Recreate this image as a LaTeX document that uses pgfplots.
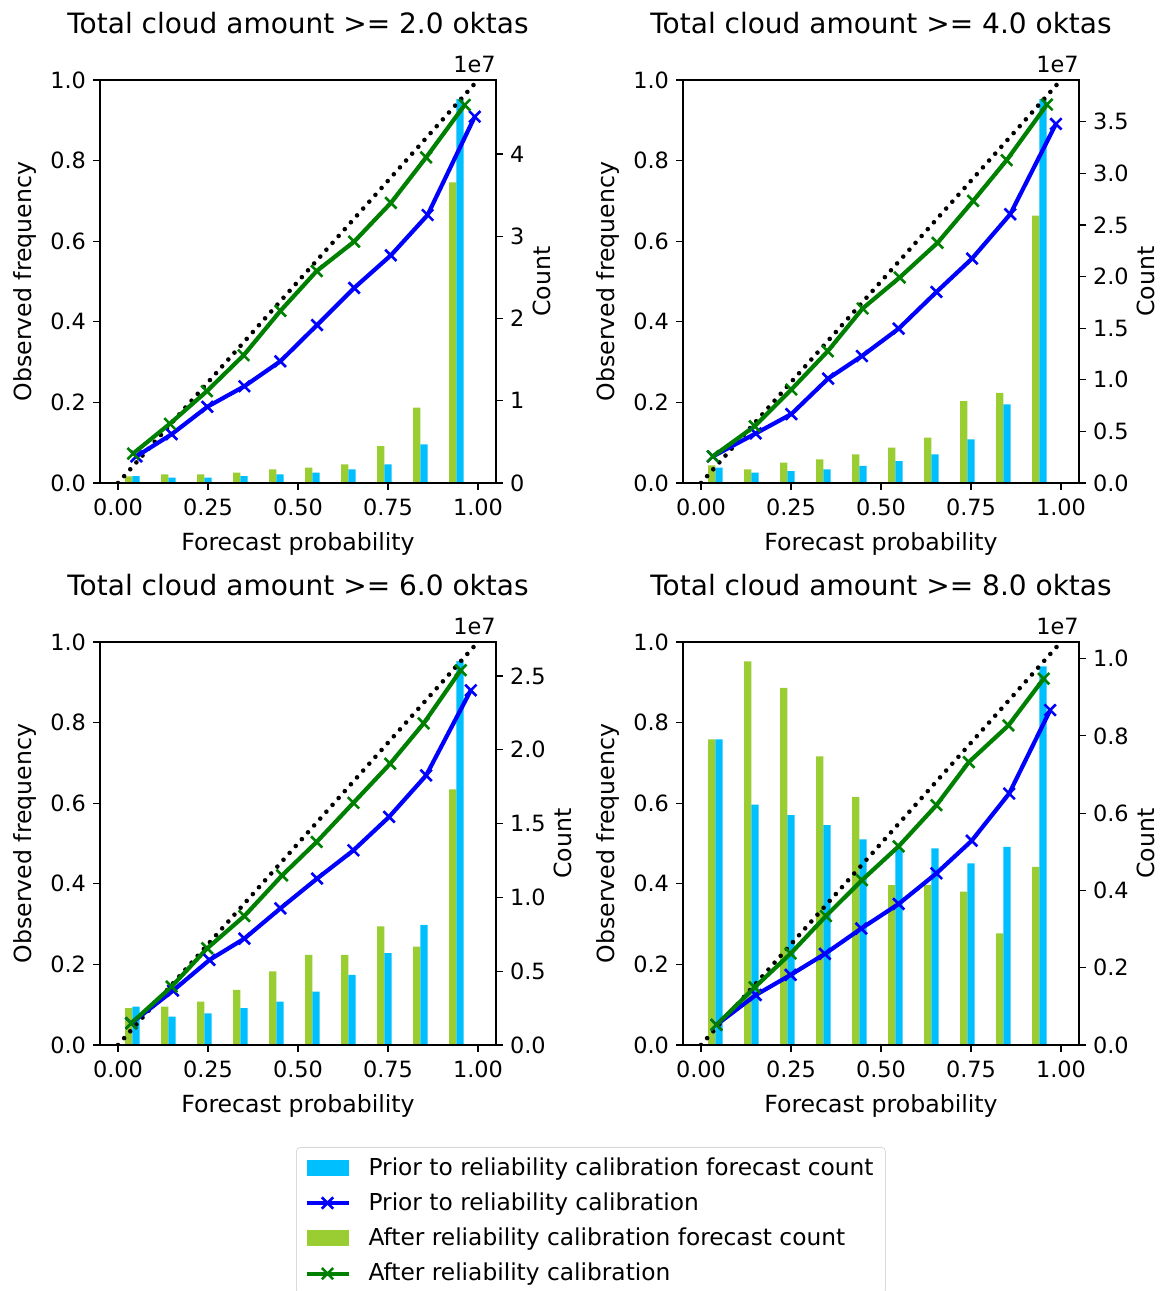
\documentclass[border=0pt]{standalone}
\usepackage{pgfplots}
\pgfplotsset{compat=1.18}
\usepackage{pgfplotstable}
\usepackage{fontspec}
\setmainfont{DejaVu Sans}
\definecolor{barblue}{RGB}{0,191,255}
\definecolor{bargreen}{RGB}{154,205,50}
\definecolor{lineblue}{RGB}{0,0,255}
\definecolor{linegreen}{RGB}{0,128,0}

% line data: mean forecast probability / observed frequency
\pgfplotstableread{
xb yb xg yg
0.051 0.066 0.042 0.073
0.149 0.121 0.144 0.147
0.248 0.189 0.247 0.228
0.351 0.240 0.349 0.317
0.451 0.302 0.451 0.427
0.553 0.392 0.552 0.526
0.656 0.484 0.656 0.599
0.758 0.565 0.758 0.695
0.860 0.665 0.856 0.808
0.991 0.909 0.963 0.938
}\lineA
\pgfplotstableread{
xb yb xg yg
0.033 0.066 0.033 0.066
0.152 0.123 0.149 0.141
0.251 0.171 0.251 0.232
0.353 0.259 0.352 0.327
0.447 0.315 0.449 0.433
0.549 0.383 0.552 0.510
0.654 0.474 0.657 0.596
0.753 0.557 0.756 0.700
0.859 0.667 0.849 0.801
0.986 0.891 0.961 0.939
}\lineB
\pgfplotstableread{
xb yb xg yg
0.037 0.054 0.037 0.054
0.153 0.135 0.149 0.145
0.254 0.211 0.248 0.240
0.351 0.264 0.351 0.320
0.451 0.339 0.456 0.421
0.553 0.413 0.552 0.504
0.654 0.483 0.654 0.601
0.753 0.566 0.756 0.698
0.856 0.669 0.849 0.798
0.980 0.880 0.952 0.930
}\lineC
\pgfplotstableread{
xb yb xg yg
0.043 0.050 0.043 0.050
0.152 0.124 0.149 0.143
0.249 0.174 0.249 0.227
0.344 0.226 0.347 0.320
0.445 0.289 0.447 0.409
0.549 0.350 0.549 0.493
0.654 0.426 0.654 0.595
0.752 0.507 0.744 0.702
0.856 0.624 0.854 0.793
0.970 0.831 0.952 0.909
}\lineD

% bar data: counts (units of 1e7)
\pgfplotstableread{
c g b
0.04 0.080 0.085
0.14 0.105 0.065
0.24 0.105 0.065
0.34 0.125 0.085
0.44 0.166 0.105
0.54 0.186 0.125
0.64 0.227 0.166
0.74 0.449 0.227
0.84 0.915 0.470
0.94 3.656 4.668
}\barA
\pgfplotstableread{
c g b
0.04 0.171 0.148
0.14 0.132 0.100
0.24 0.197 0.116
0.34 0.229 0.132
0.44 0.277 0.165
0.54 0.342 0.213
0.64 0.439 0.277
0.74 0.794 0.423
0.84 0.874 0.761
0.94 2.590 3.720
}\barB
\pgfplotstableread{
c g b
0.04 0.249 0.260
0.14 0.260 0.192
0.24 0.294 0.215
0.34 0.373 0.249
0.44 0.498 0.294
0.54 0.611 0.362
0.64 0.611 0.475
0.74 0.803 0.622
0.84 0.667 0.814
0.94 1.731 2.600
}\barC
\pgfplotstableread{
c g b
0.04 0.791 0.791
0.14 0.993 0.622
0.24 0.924 0.595
0.34 0.747 0.569
0.44 0.642 0.532
0.54 0.414 0.506
0.64 0.414 0.509
0.74 0.397 0.470
0.84 0.289 0.513
0.94 0.461 0.980
}\barD

\pgfplotsset{
  common/.style={
    scale only axis, width=198pt, height=201.5pt,
    anchor=south west,
    xmin=-0.05, xmax=1.05,
    font=\fontsize{11.2}{13}\selectfont,
    label style={font=\fontsize{11.8}{14}\selectfont},
    /pgf/number format/assume math mode=true,
    tick align=outside, major tick length=3.5pt,
    axis line style={line width=0.6pt},
    every tick/.style={black, line width=0.6pt},
  },
  leftax/.style={
    common, ymin=0, ymax=1,
    xtick={0,0.25,0.5,0.75,1},
    ytick={0,0.2,0.4,0.6,0.8,1},
    xticklabel style={yshift=-1pt, /pgf/number format/fixed, /pgf/number format/fixed zerofill, /pgf/number format/precision=2},
    yticklabel style={/pgf/number format/fixed, /pgf/number format/fixed zerofill, /pgf/number format/precision=1},
    tick pos=left,
    xlabel={Forecast probability}, ylabel={Observed frequency},
    xlabel style={yshift=-1.5pt},
    title style={font=\fontsize{14}{16}\selectfont, at={(0.5,1)}, anchor=base, yshift=17pt},
  },
  rightax/.style={
    common, ymin=0, clip=false,
    axis y line*=right, hide x axis,
    scaled y ticks=false,
    yticklabel style={/pgf/number format/fixed, /pgf/number format/fixed zerofill},
    ylabel={Count}, ylabel shift=-2.5pt,
  },
  lineplot/.style={line width=2.1pt, mark=x, mark size=4pt, mark options={line width=1.3pt}},
}

\newcommand{\panel}[8]{%
  \begin{axis}[rightax, at={(#1,#2)}, ymax=#6, ytick={#7},
     yticklabel style={/pgf/number format/precision=#8}]
    \addplot[ybar, bar width=0.02, bar shift=0pt, fill=bargreen, draw=none]
      table[x expr=\thisrow{c}-0.01, y=g]{#5};
    \addplot[ybar, bar width=0.02, bar shift=0pt, fill=barblue, draw=none]
      table[x expr=\thisrow{c}+0.01, y=b]{#5};
    \node[anchor=base east, inner sep=0pt, yshift=3.5pt, font=\fontsize{11.2}{13}\selectfont] at (rel axis cs:1,1) {1e7};
  \end{axis}
  \begin{axis}[leftax, at={(#1,#2)}, title={#3}]
    \addplot[black, line width=2.3pt, dash pattern=on 0pt off 4.6pt, line cap=round]
      coordinates {(0,0) (1,1)};
    \addplot[lineblue, lineplot] table[x=xb, y=yb]{#4};
    \addplot[linegreen, lineplot] table[x=xg, y=yg]{#4};
  \end{axis}
}

\begin{document}
\begin{tikzpicture}
\useasboundingbox (0,0) rectangle (580.5pt,645.5pt);
\panel{50pt}{404pt}{Total cloud amount >= 2.0 oktas}{\lineA}{\barA}{4.90}{0,1,2,3,4}{0}
\panel{341.5pt}{404pt}{Total cloud amount >= 4.0 oktas}{\lineB}{\barB}{3.905}{0,0.5,1,1.5,2,2.5,3,3.5}{1}
\panel{50pt}{123pt}{Total cloud amount >= 6.0 oktas}{\lineC}{\barC}{2.73}{0,0.5,1,1.5,2,2.5}{1}
\panel{341.5pt}{123pt}{Total cloud amount >= 8.0 oktas}{\lineD}{\barD}{1.043}{0,0.2,0.4,0.6,0.8,1}{1}
\begin{axis}[common, at={(50pt,123pt)}, hide axis, ymin=0, ymax=1,
  legend style={at={(0.495,-0.253)}, anchor=north west, draw=black!15, rounded corners=2pt,
    font=\fontsize{11.65}{14}\selectfont, row sep=3.3pt, inner xsep=4pt, inner ysep=3pt},
  legend cell align=left]
  \addlegendimage{area legend, legend image code/.code={\fill[barblue, sharp corners, draw=none] (0pt,-4pt) rectangle (21pt,4pt); \path[draw=none, fill=none] (0pt,0pt) -- (29pt,0pt);}}
  \addlegendentry{Prior to reliability calibration forecast count}
  \addlegendimage{lineblue, line width=2.1pt, mark=x, mark size=4pt, mark options={line width=1.3pt},
    legend image code/.code={\draw[sharp corners, mark repeat=2, mark phase=2] plot coordinates {(0pt,0pt) (10.5pt,0pt) (21pt,0pt)}; \path[draw=none, fill=none] (0pt,0pt) -- (29pt,0pt);}}
  \addlegendentry{Prior to reliability calibration}
  \addlegendimage{area legend, legend image code/.code={\fill[bargreen, sharp corners, draw=none] (0pt,-4pt) rectangle (21pt,4pt); \path[draw=none, fill=none] (0pt,0pt) -- (29pt,0pt);}}
  \addlegendentry{After reliability calibration forecast count}
  \addlegendimage{linegreen, line width=2.1pt, mark=x, mark size=4pt, mark options={line width=1.3pt},
    legend image code/.code={\draw[sharp corners, mark repeat=2, mark phase=2] plot coordinates {(0pt,0pt) (10.5pt,0pt) (21pt,0pt)}; \path[draw=none, fill=none] (0pt,0pt) -- (29pt,0pt);}}
  \addlegendentry{After reliability calibration}
\end{axis}
\end{tikzpicture}
\end{document}
